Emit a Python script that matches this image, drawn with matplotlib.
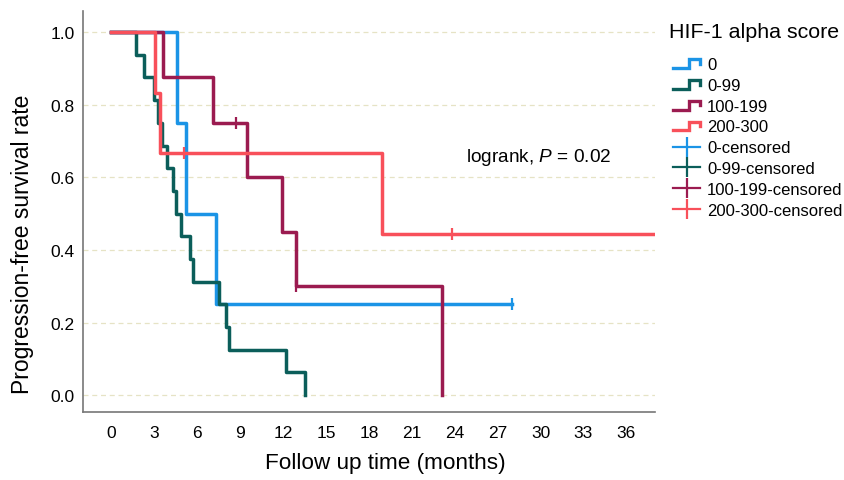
import numpy as np
import matplotlib.pyplot as plt
from matplotlib.lines import Line2D
from matplotlib.legend_handler import HandlerBase

plt.rcParams['font.family'] = ['Liberation Sans', 'DejaVu Sans']
plt.rcParams['mathtext.fontset'] = 'custom'
plt.rcParams['mathtext.it'] = 'Liberation Sans:italic'
plt.rcParams['mathtext.rm'] = 'Liberation Sans'

# Follow up times (months), per HIF-1 alpha score group
groups = ["0", "0-99", "100-199", "200-300"]
colors = ["#1b94e6", "#0b5e5a", "#9b1b50", "#f8505a"]

events_0 = [4.6, 5.25, 7.35]
censor_0 = [28.0]
events_0_99 = [1.75, 2.3, 3.0, 3.25, 3.55, 3.9, 4.3, 4.5, 4.9, 5.5, 5.7,
               7.55, 8.0, 8.25, 12.2, 13.55]
censor_0_99 = []
events_100_199 = [3.6, 7.1, 9.5, 11.9, 12.9, 23.1]
censor_100_199 = [8.7, 12.9]
events_200_300 = [3.08, 3.4, 18.9]
censor_200_300 = [5.1, 23.8, 40.0]

all_events = [events_0, events_0_99, events_100_199, events_200_300]
all_censor = [censor_0, censor_0_99, censor_100_199, censor_200_300]

x_ticks = np.arange(0, 37, 3)
y_ticks = [0.0, 0.2, 0.4, 0.6, 0.8, 1.0]


def kaplan_meier(events, censored):
    """Return step times, survival values and survival at censor times."""
    data = sorted([(t, 1) for t in events] + [(t, 0) for t in censored],
                  key=lambda d: (d[0], -d[1]))
    n = len(data)
    s = 1.0
    times, surv = [0.0], [1.0]
    cens_t, cens_s = [], []
    for t, ev in data:
        if ev:
            s = s * (n - 1) / n
            times.append(t)
            surv.append(s)
        else:
            cens_t.append(t)
            cens_s.append(s)
        n -= 1
    last = max(t for t, _ in data)
    times.append(last)
    surv.append(s)
    return times, surv, cens_t, cens_s


class StepHandler(HandlerBase):
    def create_artists(self, legend, orig_handle, xdescent, ydescent,
                       width, height, fontsize, trans):
        x0 = -xdescent
        y0 = -ydescent
        xs = [x0, x0 + 0.6 * width, x0 + 0.6 * width, x0 + width, x0 + width]
        ys = [y0 + 0.1 * height, y0 + 0.1 * height, y0 + 0.85 * height,
              y0 + 0.85 * height, y0 + 0.45 * height]
        ln = Line2D(xs, ys, color=orig_handle.get_color(), lw=2.4,
                    solid_joinstyle='miter')
        ln.set_transform(trans)
        return [ln]


fig = plt.figure(figsize=(8.44, 4.81), dpi=100)
ax = fig.add_axes([0.098, 0.141, 0.678, 0.834])

for ev, ce, col in zip(all_events, all_censor, colors):
    times, surv, ct, cs = kaplan_meier(ev, ce)
    ax.step(times, surv, where='post', color=col, lw=2.5)
    ax.plot(ct, cs, ls='none', marker='|', ms=9, mew=1.6, color=col)

ax.set_xlim(-2, 38)
ax.set_ylim(-0.047, 1.058)
ax.set_xticks(x_ticks)
ax.set_yticks(y_ticks)
ax.set_yticklabels([f"{v:.1f}" for v in y_ticks])
ax.tick_params(length=0, labelsize=12.5)
ax.tick_params(axis='y', pad=6)
ax.tick_params(axis='x', pad=9)
ax.grid(axis='y', color='#e6e3c5', ls=(0, (4, 3)), lw=0.9)
ax.set_axisbelow(True)
for side in ['top', 'right']:
    ax.spines[side].set_visible(False)
for side in ['left', 'bottom']:
    ax.spines[side].set_color('#777777')
    ax.spines[side].set_linewidth(1.2)

ax.set_xlabel("Follow up time (months)", fontsize=16.2)
ax.xaxis.set_label_coords(0.528, -0.1)
ax.set_ylabel("Progression-free survival rate", fontsize=16.5)
ax.yaxis.set_label_coords(-0.086, 0.421)

ax.text(24.8, 0.658, r"logrank, $\it{P}$ = 0.02", fontsize=13.7,
        va='center', ha='left')

fig.text(669 / 844, 1 - 32 / 481, "HIF-1 alpha score", fontsize=15.4,
         ha='left', va='center')

handles = [Line2D([], [], color=c) for c in colors]
cens_handles = [Line2D([], [], color=c, lw=1.6, marker='|', ms=15, mew=1.6)
                for c in colors]
handler_map = {h: StepHandler() for h in handles}
leg = fig.legend(handles + cens_handles,
                 groups + [g + "-censored" for g in groups],
                 handler_map=handler_map, loc='upper left',
                 bbox_to_anchor=(673 / 844, 1 - 58 / 481), frameon=False,
                 fontsize=12, handlelength=1.62, handletextpad=0.42,
                 labelspacing=0.35, borderpad=0, borderaxespad=0)

fig.savefig("out.png", dpi=100)
